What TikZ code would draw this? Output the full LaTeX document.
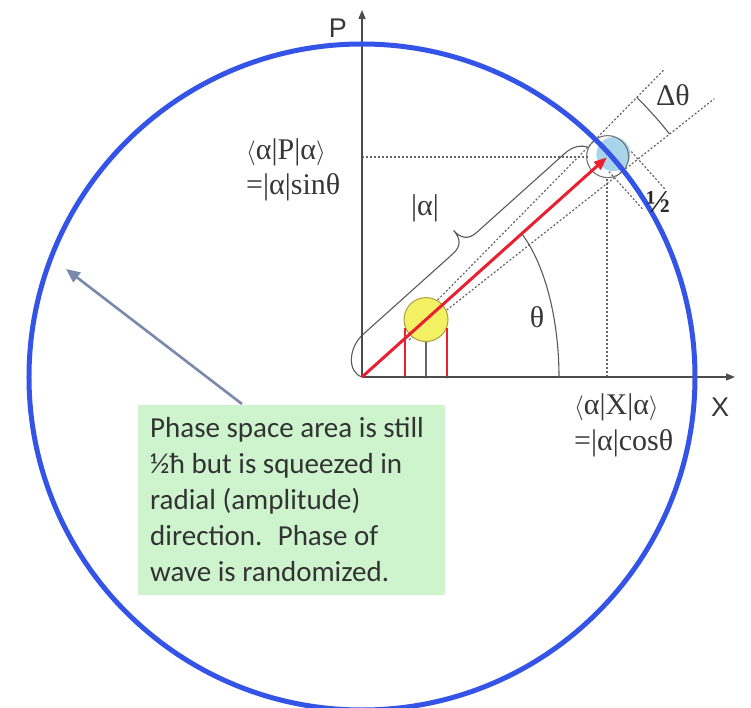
\documentclass[tikz,border=0pt]{standalone}
\usepackage{fontspec}
\setmainfont{Liberation Serif}
\newfontfamily\boxfont{Carlito}
\newfontfamily\axfont{Liberation Sans}
\usetikzlibrary{arrows.meta}
\definecolor{bigblue}{RGB}{52,84,232}
\definecolor{arrred}{RGB}{232,32,48}
\definecolor{boxgreen}{RGB}{206,244,206}
\definecolor{lblue}{RGB}{168,212,236}
\definecolor{yel}{RGB}{244,240,100}
\definecolor{yeldraw}{RGB}{170,160,60}
\definecolor{ptr}{RGB}{122,136,170}
\definecolor{txt}{RGB}{55,55,55}
\begin{document}
\begin{tikzpicture}[x=1pt,y=1pt,
  axisline/.style={draw=black!70,line width=1.4pt,-{Triangle[length=9pt,width=7pt]}},
  dotline/.style={draw=black!60,line width=1.2pt,dash pattern=on 2pt off 2pt},
  thinline/.style={draw=black!65,line width=1.1pt},
  lbl/.style={text=txt,inner sep=0pt,font=\fontsize{30}{35}\selectfont},
  axlbl/.style={text=txt,inner sep=0pt,font=\axfont\fontsize{27}{30}\selectfont},
  redarrow/.style={draw=arrred,line width=3pt,-{Triangle[length=13pt,width=10pt]}},
  ptrarrow/.style={draw=ptr,line width=2.6pt,-{Triangle[length=14pt,width=12pt]}},
  projline/.style={line width=1.2pt}
]
\useasboundingbox (-362,-331) rectangle (389,377);
\coordinate (O) at (0,0);
% green box
\node[fill=boxgreen,minimum width=307,minimum height=190,anchor=north west,inner sep=0pt] (box) at (-224,-28) {};
\node[anchor=north west,align=left,text=black!80,font=\boxfont\fontsize{29}{36}\selectfont,inner sep=0pt] (boxtext) at (-212,-40)
  {Phase space area is still\\½ħ but is squeezed in\\radial (amplitude)\\direction.~ Phase of\\wave is randomized.};
% coordinates
\coordinate (tip) at (41.9:329);
\coordinate (Ptop) at (0,367);
\coordinate (Xend) at (373,0);
\coordinate (hP) at (0,220);
\coordinate (hE) at (226,220);
\coordinate (vX) at (245,0);
\coordinate (vE) at (245,199);
% dotted projections
\draw[dotline] (hP) -- (hE);
\draw[dotline] (vX) -- (vE);
% rotated elements
\begin{scope}[rotate=41.9]
  \coordinate (r1a) at (-3.6:60);
  \coordinate (r1b) at (-3.6:449);
  \coordinate (r2a) at (3.6:60);
  \coordinate (r2b) at (3.6:432);
  \draw[dotline] (r1a) -- (r1b);
  \draw[dotline] (r2a) -- (r2b);
  \coordinate (p1a) at (321,-12);
  \coordinate (p1b) at (321,-64);
  \coordinate (p2a) at (351,-12);
  \coordinate (p2b) at (351,-64);
  \draw[dotline] (p1a) -- (p1b);
  \draw[dotline] (p2a) -- (p2b);
  % brace
  \draw[thinline] (0,0) .. controls (-8,14) and (10,31) .. (29,31) -- (150,31)
     .. controls (162,31) and (166,38) .. (166,48)
     .. controls (166,38) and (170,31) .. (182,31) -- (300,31)
     .. controls (312,31) and (318,26) .. (322,20);
  % small circles at the tip
  \node[circle,fill=lblue,minimum size=34,inner sep=0pt] (sq) at (336,-2) {};
  \node[circle,draw=black!55,line width=1.1pt,minimum size=42,inner sep=0pt] (coh) at (330,0) {};
\end{scope}
% yellow circle and projections
\node[circle,fill=yel,draw=yeldraw,line width=1pt,minimum size=44,inner sep=0pt] (yc) at (41.9:86) {};
\coordinate (ya) at (43,0);
\coordinate (yb) at (43,49);
\coordinate (ma) at (64,0);
\coordinate (mb) at (64,35);
\coordinate (za) at (85,0);
\coordinate (zb) at (85,49);
\draw[projline,draw=arrred] (ya) -- (yb);
\draw[projline,draw=arrred] (za) -- (zb);
\draw[projline,draw=black!60] (ma) -- (mb);
\fill[black!60] (ya) circle (1.6) (ma) circle (1.6) (za) circle (1.6);
% axes
\draw[axisline] (O) -- (Ptop);
\draw[axisline] (O) -- (Xend);
% red arrow
\draw[redarrow] (O) -- (tip);
% big circle
\draw[draw=bigblue,line width=5pt] (O) circle (333);
% theta arc
\coordinate (ta) at (197,0);
\coordinate (tb) at (160,143);
\draw[thinline] (ta) .. controls (197,50) and (186,108) .. (tb);
% delta theta arc
\coordinate (da) at (38.3:392);
\draw[thinline] (da) arc[start angle=38.3,end angle=45.5,radius=392];
% labels
\node[axlbl] (Plbl) at (-24,349) {P};
\node[axlbl] (Xlbl) at (358,-30) {X};
\node[lbl,anchor=west] (pl1) at (-116,225) {$\langle$α|P|α$\rangle$};
\node[lbl,anchor=west] (pl2) at (-116,190) {=|α|sinθ};
\node[lbl,anchor=west] (xl1) at (212,-30) {$\langle$α|X|α$\rangle$};
\node[lbl,anchor=west] (xl2) at (212,-66) {=|α|cosθ};
\node[lbl] (albl) at (63,169) {|α|};
\node[lbl] (thlbl) at (175,60) {θ};
\node[lbl] (dtlbl) at (311,282) {Δθ};
\node[lbl,text=black!85,font=\bfseries\fontsize{32}{34}\selectfont] (half) at (296,175) {½};
% pointer arrow
\coordinate (pa) at (-120,-27);
\coordinate (pb) at (-296,108);
\draw[ptrarrow] (pa) -- (pb);
\end{tikzpicture}
\end{document}
